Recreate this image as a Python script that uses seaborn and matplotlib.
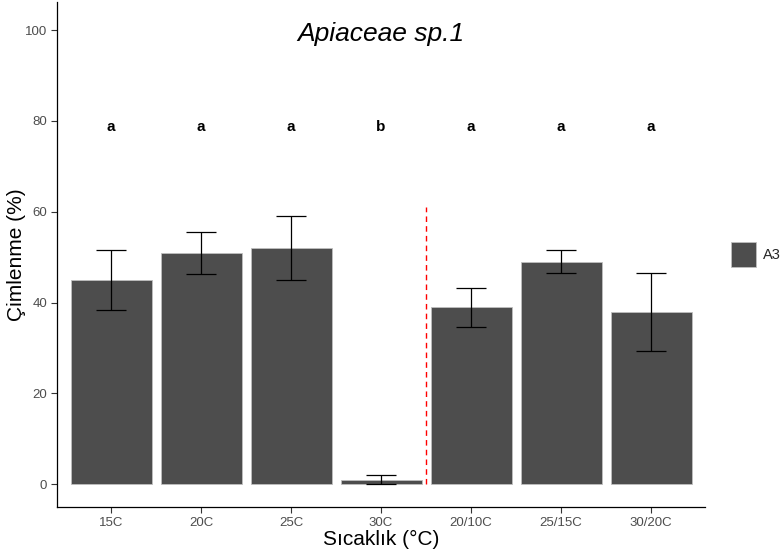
import numpy as np
import pandas as pd
import matplotlib
matplotlib.use("Agg")
import matplotlib.pyplot as plt
import seaborn as sns

# Germination by temperature treatment
categories = ["15C", "20C", "25C", "30C", "20/10C", "25/15C", "30/20C"]
germination = [45.0, 51.0, 52.0, 1.0, 39.0, 49.0, 38.0]
err_low = [38.4, 46.2, 44.9, 0.0, 34.5, 46.4, 29.3]
err_high = [51.5, 55.6, 59.1, 1.9, 43.2, 51.5, 46.5]
letters = ["a", "a", "a", "b", "a", "a", "a"]
group = ["A3"] * len(categories)

df = pd.DataFrame({"temp": categories, "germ": germination, "grp": group})

sns.set_theme(style="white")
plt.rcParams["font.family"] = ["Liberation Sans", "DejaVu Sans"]

fig = plt.figure(figsize=(7.81, 5.58), dpi=100)
ax = fig.add_axes([57 / 781, 51 / 558, 648 / 781, 505 / 558])

sns.barplot(data=df, x="temp", y="germ", hue="grp", palette=["#4D4D4D"],
            width=0.9, edgecolor="#BFBFBF", linewidth=0.6, errorbar=None,
            ax=ax, saturation=1)

xpos = np.arange(len(categories))
ax.errorbar(xpos, germination,
            yerr=[np.array(germination) - np.array(err_low),
                  np.array(err_high) - np.array(germination)],
            fmt="none", ecolor="black", elinewidth=0.9, capsize=11,
            capthick=0.9, zorder=5)

for x, lab in zip(xpos, letters):
    ax.text(x, 78.6, lab, ha="center", va="center", fontsize=11,
            fontweight="bold", color="black")

# divider between constant and alternating temperatures
ax.plot([3.5, 3.5], [0, 61], color="red", linestyle=(0, (4, 3)),
        linewidth=1.0, zorder=4)

ax.text(3, 99.2, "Apiaceae sp.1", ha="center", va="center", fontsize=19,
        style="italic", color="black")

ax.set_xlim(-0.6, 6.6)
ax.set_ylim(-5.05, 106.2)
ax.set_yticks([0, 20, 40, 60, 80, 100])
ax.set_xlabel("Sıcaklık (°C)", fontsize=15, color="black", labelpad=1)
ax.set_ylabel("Çimlenme (%)", fontsize=15, color="black", labelpad=-1)

for side in ["top", "right"]:
    ax.spines[side].set_visible(False)
for side in ["left", "bottom"]:
    ax.spines[side].set_color("black")
    ax.spines[side].set_linewidth(0.9)

ax.tick_params(axis="both", which="both", length=4, width=0.8,
               color="#333333", labelcolor="#4D4D4D", labelsize=9.5,
               left=True, bottom=True, pad=3)

leg = ax.legend(loc="center left", bbox_to_anchor=(1.02, 0.5),
                frameon=False, handlelength=1.7, handleheight=2.2,
                fontsize=10.5, title=None, handletextpad=0.5)

fig.savefig("out.png", dpi=100)
